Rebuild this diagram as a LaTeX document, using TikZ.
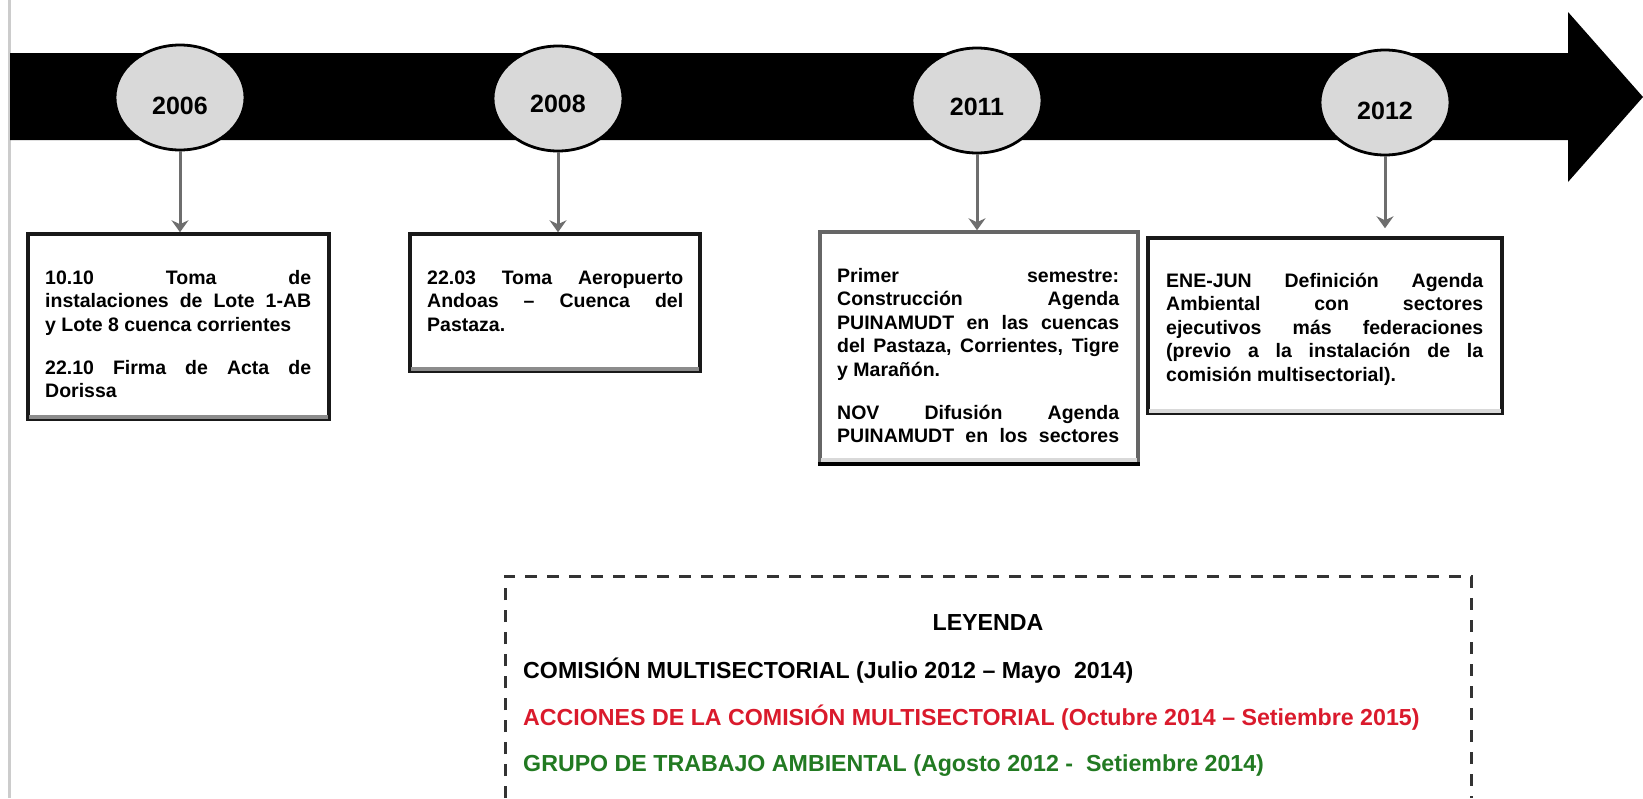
\documentclass[tikz,border=0pt]{standalone}
\usepackage{fontspec}
\setmainfont{Liberation Sans}
\usetikzlibrary{shapes.geometric,arrows.meta}
\definecolor{ellfill}{HTML}{D9D9D9}
\definecolor{legred}{RGB}{218,26,44}
\definecolor{leggreen}{RGB}{34,122,34}
\definecolor{conngray}{HTML}{6E6E6E}
\definecolor{edgegray}{HTML}{CCCCCC}
\begin{document}
\begin{tikzpicture}[x=1pt,y=-1pt,
  yearell/.style={ellipse, draw=black, line width=2.8pt, fill=ellfill, minimum width=130pt, minimum height=105pt, inner sep=0pt},
  yeartext/.style={font=\fontsize{25}{30}\selectfont\bfseries, inner sep=0pt, anchor=center},
  evbox/.style={draw=black!90, line width=3.5pt, fill=white, inner sep=0pt},
  boxtext/.style={font=\fontsize{19.5}{23.5}\selectfont\bfseries, inner sep=0pt, anchor=base west},
  conn/.style={draw=conngray, line width=3pt, -{Stealth[length=12pt,width=17pt,inset=4pt]}},
  legtext/.style={font=\fontsize{23.2}{28}\selectfont\bfseries, inner sep=0pt, anchor=base west},
  legdash/.style={draw=black!80, line width=3pt, dash pattern=on 12pt off 10pt},
  shadowline/.style={draw=black!45, line width=4pt}
]
\useasboundingbox (0,0) rectangle (1643,798);
\fill[white] (0,0) rectangle (1643,798);
% left page edge
\draw[edgegray, line width=3pt] (9,0) -- (9,798);
% timeline arrow
\fill[black] (10,53) -- (1568,53) -- (1568,12) -- (1643,97) -- (1568,182) -- (1568,140) -- (10,140) -- cycle;
% year ellipses
\node[yearell] (e1) at (180,97.5) {};
\node[yearell] (e2) at (558,98.5) {};
\node[yearell] (e3) at (977,100.5) {};
\node[yearell] (e4) at (1385,102.5) {};
\node[yeartext] (y1) at (180,106) {2006};
\node[yeartext] (y2) at (558,104) {2008};
\node[yeartext] (y3) at (977,107) {2011};
\node[yeartext] (y4) at (1385,111) {2012};
% event boxes
\node[evbox, minimum width=301pt, minimum height=185pt] (b1) at (178.5,326.5) {};
\node[evbox, minimum width=290pt, minimum height=137pt] (b2) at (555,302.5) {};
\node[evbox, draw=black!60, minimum width=318pt, minimum height=230pt] (b3) at (979,347) {};
\node[evbox, minimum width=354pt, minimum height=175pt] (b4) at (1325,325.5) {};
\draw[shadowline] ([xshift=3pt,yshift=4pt]b1.south west) -- ([xshift=-3pt,yshift=4pt]b1.south east);
\draw[shadowline] ([xshift=3pt,yshift=4pt]b2.south west) -- ([xshift=-3pt,yshift=4pt]b2.south east);
\draw[black, line width=3.5pt] (b3.south west) -- (b3.south east);
\draw[shadowline, black!15] ([xshift=3pt,yshift=4pt]b3.south west) -- ([xshift=-3pt,yshift=4pt]b3.south east);
\draw[shadowline, black!15] ([xshift=3pt,yshift=4pt]b4.south west) -- ([xshift=-3pt,yshift=4pt]b4.south east);
% connectors
\draw[conn] (e1.south) -- (e1.south |- b1.north);
\draw[conn] (e2.south) -- (e2.south |- b2.north);
\draw[conn] (e3.south) -- (e3.south |- b3.north);
\draw[conn, shorten >=8pt] (e4.south) -- (e4.south |- b4.north);
% box texts
\node[boxtext] (t1) at (45,284) {\parbox[t]{266pt}{%
\makebox[\linewidth][s]{10.10 Toma de}\\
\makebox[\linewidth][s]{instalaciones de Lote 1-AB}\\
y Lote 8 cuenca corrientes\\[19.5pt]
\makebox[\linewidth][s]{22.10 Firma de Acta de}\\
Dorissa}};
\node[boxtext] (t2) at (427,284) {\parbox[t]{256pt}{%
\makebox[\linewidth][s]{22.03 Toma Aeropuerto}\\
\makebox[\linewidth][s]{Andoas – Cuenca del}\\
Pastaza.}};
\node[boxtext] (t3) at (837,282) {\parbox[t]{282pt}{%
\makebox[\linewidth][s]{Primer semestre:}\\
\makebox[\linewidth][s]{Construcción Agenda}\\
\makebox[\linewidth][s]{PUINAMUDT en las cuencas}\\
\makebox[\linewidth][s]{del Pastaza, Corrientes, Tigre}\\
y Marañón.\\[19.5pt]
\makebox[\linewidth][s]{NOV Difusión Agenda}\\
\makebox[\linewidth][s]{PUINAMUDT en los sectores}}};
\node[boxtext] (t4) at (1166,287) {\parbox[t]{317pt}{%
\makebox[\linewidth][s]{ENE-JUN Definición Agenda}\\
\makebox[\linewidth][s]{Ambiental con sectores}\\
\makebox[\linewidth][s]{ejecutivos más federaciones}\\
\makebox[\linewidth][s]{(previo a la instalación de la}\\
comisión multisectorial).}};
% legend
\draw[legdash] (505,798) -- (505,576) -- (1471,576) -- (1471,798);
\node[legtext, anchor=base] (lt) at (988,630) {LEYENDA};
\node[legtext] (l1) at (523,678) {COMISIÓN MULTISECTORIAL (Julio 2012 – Mayo\ \ 2014)};
\node[legtext, text=legred] (l2) at (523,725) {ACCIONES DE LA COMISIÓN MULTISECTORIAL (Octubre 2014 – Setiembre 2015)};
\node[legtext, text=leggreen] (l3) at (523,771) {GRUPO DE TRABAJO AMBIENTAL (Agosto 2012 -\ \ Setiembre 2014)};
\end{tikzpicture}
\end{document}
